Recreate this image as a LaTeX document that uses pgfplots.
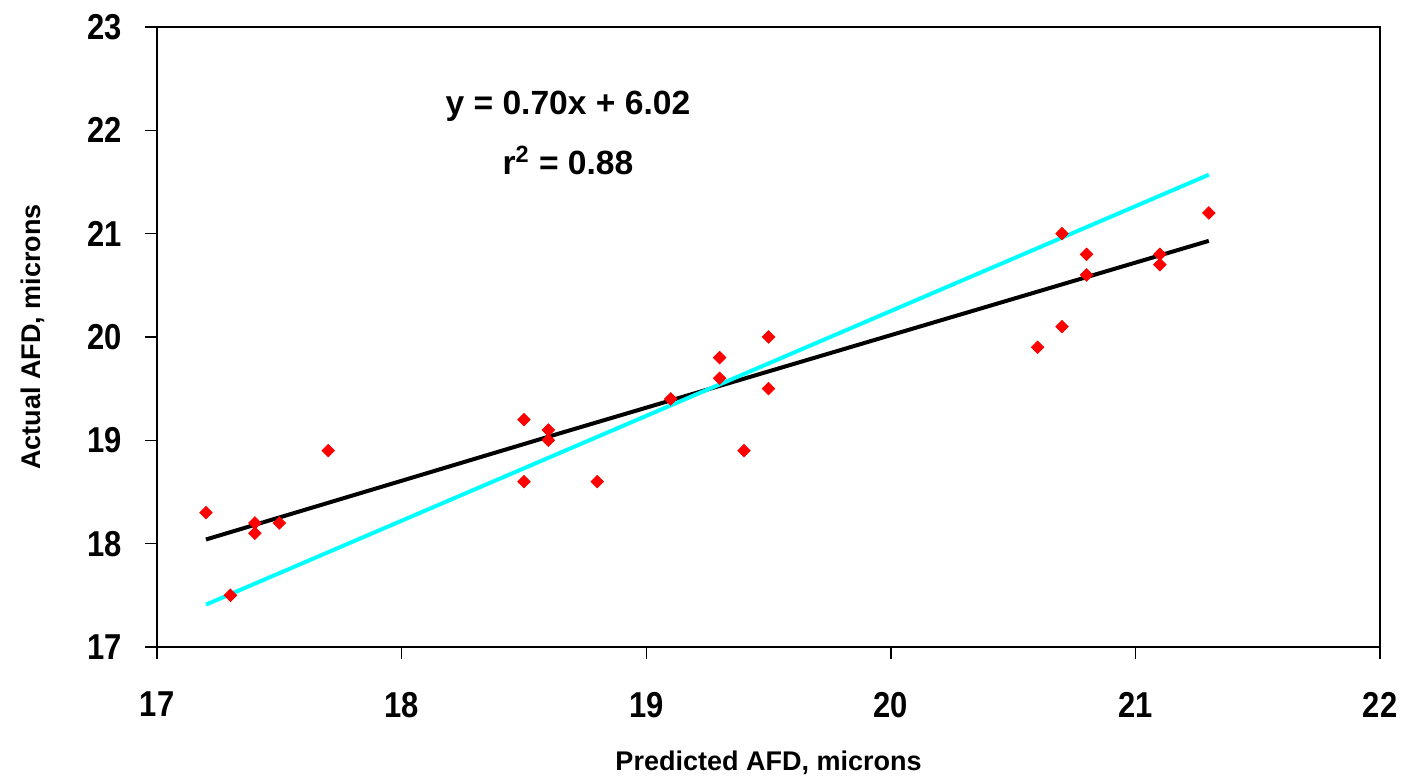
\documentclass[border=0pt]{standalone}
\usepackage{pgfplots}
\pgfplotsset{compat=1.18}
\usepackage{fontspec}
\setmainfont{Liberation Sans}
\newfontfamily\narrowfont{Liberation Sans}[FakeStretch=0.86]
\definecolor{fitcyan}{RGB}{0,255,255}
\begin{document}
\begin{tikzpicture}
\begin{axis}[
  scale only axis,
  width=611.5pt, height=310pt,
  xmin=17, xmax=22, ymin=17, ymax=23,
  xtick={17,18,...,22}, ytick={17,18,...,23},
  xtick pos=bottom, ytick pos=left,
  tick align=outside,
  major tick length=6pt,
  tick style={black, line width=0.7pt},
  axis line style={black, line width=1pt},
  tick label style={font=\narrowfont\fontsize{18}{20}\selectfont\bfseries},
  /pgf/number format/assume math mode=true,
  xticklabel style={yshift=-13pt},
  yticklabel style={xshift=-8pt},
  xlabel={\fontsize{13.5}{16}\selectfont\bfseries Predicted AFD, microns},
  ylabel={\fontsize{13.5}{16}\selectfont\bfseries Actual AFD, microns},
  xlabel style={at={(rel axis cs:0.5,-0.187)}, anchor=center},
  ylabel style={at={(rel axis cs:-0.1014,0.5)}, anchor=center},
  clip=false,
]
\addplot[only marks, mark=square*, mark size=2.2pt, mark options={rotate=45}, color=red] coordinates {
  (17.2,18.3) (17.3,17.5) (17.4,18.2) (17.4,18.1) (17.5,18.2) (17.7,18.9)
  (18.5,19.2) (18.5,18.6) (18.6,19.1) (18.6,19.0) (18.8,18.6) (19.1,19.4)
  (19.3,19.8) (19.3,19.6) (19.4,18.9) (19.5,20.0) (19.5,19.5) (20.6,19.9)
  (20.7,21.0) (20.7,20.1) (20.8,20.8) (20.8,20.6) (21.1,20.8) (21.1,20.7)
  (21.3,21.2)
};
\addplot[color=black, line width=2pt] coordinates {
  (17.2,18.04) (18.65,19.07) (21.3,20.93)
};
\addplot[color=fitcyan, line width=2pt] coordinates {
  (17.2,17.41) (19.25,19.49) (21.3,21.57)
};
\node[font=\fontsize{16.8}{18}\selectfont\bfseries] at (axis cs:18.68,22.23) {y = 0.70x + 6.02};
\node[font=\fontsize{16.8}{18}\selectfont\bfseries] at (axis cs:18.68,21.71) {r\textsuperscript{2} = 0.88};
\path (rel axis cs:-0.1284,-0.2161) rectangle (rel axis cs:1.0196,1.0435);
\end{axis}
\end{tikzpicture}
\end{document}
